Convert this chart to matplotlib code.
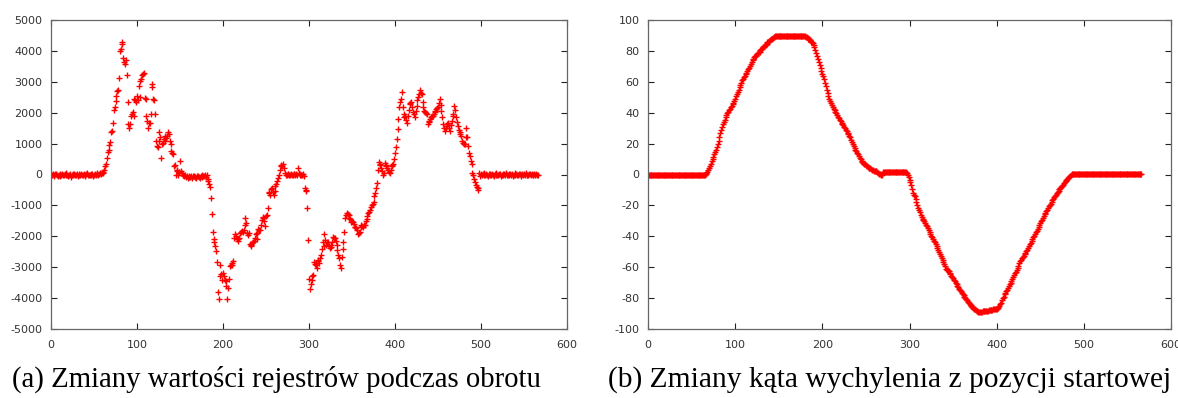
import numpy as np
import matplotlib
matplotlib.use("Agg")
import matplotlib.pyplot as plt

plt.rcParams["axes.unicode_minus"] = False

# sample index (one reading per step)
sample_index = np.arange(567)

# (a) register values, one per sample
register_values = [
    0, -30, 20, -10, -50, 10, 30, -20, -40, 0,
    20, -60, -10, 30, 0, -30, 10, -20, 40, -10,
    -40, 0, 20, -80, -20, 10, -30, 30, 0, -10,
    20, -40, -10, 10, -20, 30, -30, 0, 20, -50,
    -10, 10, 40, -20, 0, -30, 20, -10, 30, -40,
    0, 20, -20, 40, 10, -10, 30, 60, 20, 50,
    90, 60, 140, 290, 330, 520, 740, 780, 960, 1060,
    1380, 1400, 1680, 2100, 2170, 2390, 2550, 2700, 2750, 3120,
    3990, 4060, 4230, 4290, 3760, 3640, 3590, 3700, 3210, 2340,
    1630, 1500, 1620, 1900, 1950, 2010, 1880, 2450, 2400, 2340,
    2550, 2420, 2880, 2500, 3040, 3100, 3210, 3260, 3290, 2470,
    2430, 1900, 1720, 1490, 1680, 1660, 1960, 2830, 2930, 2450,
    2420, 1960, 1090, 920, 880, 1100, 1360, 1200, 540, 1000,
    1030, 1140, 1080, 1250, 1180, 1250, 1380, 1300, 1090, 1000,
    760, 700, 650, 270, 300, 0, 100, 150, 0, 80,
    430, 110, 50, 0, -20, -50, -30, -80, -60, -100,
    -40, -70, -80, -50, -100, -60, -40, -90, -70, -120,
    -60, -40, -80, -100, -50, 0, -80, -60, -40, -20,
    -80, -20, -150, -220, -300, -395, -770, -1290, -1870, -2100,
    -2170, -2300, -2490, -2820, -3790, -4040, -3300, -2920, -3220, -3400,
    -3190, -3300, -3400, -3450, -3620, -4020, -3670, -3380, -2960, -2940,
    -2920, -2850, -2790, -2050, -1910, -2000, -2100, -2080, -2160, -2050,
    -1890, -1850, -1830, -1870, -1800, -1400, -1650, -1580, -1890, -1950,
    -1890, -2250, -2310, -2270, -2220, -2180, -2160, -2050, -1910, -2100,
    -1900, -1760, -1800, -1810, -1620, -1460, -1400, -1370, -1500, -1670,
    -1350, -1300, -1100, -600, -560, -650, -480, -430, -560, -650,
    -540, -380, -300, -200, -100, 0, 150, 260, 300, 280,
    330, 200, 50, 0, -20, 10, 30, -10, 0, 20,
    -20, 0, 10, 30, -10, 20, 0, 220, 40, -10,
    10, 0, -30, 20, -40, -430, -500, -540, -1090, -2120,
    -3390, -3690, -3550, -3410, -3300, -3250, -2820, -2900, -2930, -3040,
    -2770, -2800, -2880, -2700, -2610, -2400, -2170, -2300, -1930, -2120,
    -2280, -2200, -2170, -2300, -2390, -2350, -2280, -2200, -2030, -2050,
    -2070, -2150, -2280, -2450, -2610, -2700, -2930, -3010, -2660, -2400,
    -2170, -1850, -1420, -1300, -1250, -1280, -1300, -1420, -1450, -1530,
    -1500, -1530, -1600, -1690, -1700, -1740, -1800, -1910, -1880, -1850,
    -1700, -1640, -1660, -1690, -1650, -1640, -1500, -1450, -1350, -1250,
    -1200, -1150, -1050, -990, -950, -880, -700, -610, -450, -280,
    160, 400, 330, 300, 220, 100, 0, 50, 380, 300,
    270, 200, 150, 80, 50, 150, 270, 300, 350, 500,
    680, 900, 1160, 1470, 1790, 2170, 2340, 2450, 2660, 2200,
    1960, 1850, 1900, 1750, 1680, 1900, 2100, 2280, 2300, 2340,
    2200, 2010, 1950, 1850, 2050, 2230, 2400, 2500, 2600, 2720,
    2650, 2610, 2340, 2200, 2070, 2010, 1980, 1960, 1630, 1700,
    1740, 1780, 1850, 1880, 1900, 1950, 2010, 2050, 2120, 2150,
    2170, 2300, 2450, 2250, 2070, 1850, 1630, 1500, 1410, 1500,
    1580, 1620, 1680, 1500, 1410, 1600, 1740, 1900, 1960, 2230,
    2100, 1850, 1700, 1580, 1450, 1360, 1300, 1250, 1100, 1030,
    980, 1000, 1520, 1200, 1200, 920, 700, 600, 450, 330,
    50, 0, -160, -250, -330, -400, -450, -490, 50, -50,
    20, -30, 10, 40, -20, 0, 30, -10, -40, 10,
    0, 20, -30, 30, -10, -50, 10, 40, -20, 0,
    -30, 10, 20, -40, 0, 30, -20, 10, -10, 50,
    0, -20, 30, -30, 10, -10, 20, -50, 0, 40,
    -10, 20, -30, 0, 10, 30, -20, -40, 20, 0,
    10, -20, 40, -10, 0, -30, 20, 10, -20, 30,
    -10, 0, 20, -30, 10, -20, 0,
]

# (b) tilt angle from the start position, one per sample
tilt_angle = [
    0, 0, 0, 0, 0, 0, 0, 0, 0, 0,
    0, 0, 0, 0, 0, 0, 0, 0, 0, 0,
    0, 0, 0, 0, 0, 0, 0, 0, 0, 0,
    0, 0, 0, 0, 0, 0, 0, 0, 0, 0,
    0, 0, 0, 0, 0, 0, 0, 0, 0, 0,
    0, 0, 0, 0, 0, 0, 0, 0, 0, 0,
    0, 0, 0, 0, 0, 0, 0.3, 0.8, 1.5, 2.7,
    4, 5.5, 7, 8.5, 10, 11.5, 13, 14.5, 16, 18,
    20, 22, 24.5, 27, 29, 31, 32.5, 34, 35.5, 37,
    38.5, 39.5, 40.5, 41.5, 42.5, 43.5, 44.5, 45.5, 46.5, 47.5,
    49, 50.5, 52, 53.5, 55, 56.5, 58, 59.5, 61, 62,
    63, 64, 65, 66, 67, 68, 69, 70, 71.5, 73,
    74, 75, 76, 76.5, 77, 78, 78.5, 79, 79.5, 80.5,
    81, 81.5, 82.5, 83, 83.5, 84, 84.5, 85.5, 86, 86.5,
    87, 87.5, 88, 88.5, 89, 89.3, 89.5, 89.5, 89.5, 89.5,
    89.5, 89.6, 89.5, 89.5, 89.4, 89.5, 89.5, 89.6, 89.5, 89.5,
    89.5, 89.5, 89.6, 89.5, 89.5, 89.4, 89.5, 89.5, 89.5, 89.6,
    89.5, 89.5, 89.5, 89.4, 89.5, 89.5, 89.6, 89.5, 89.5, 89.5,
    89.5, 89.3, 89, 88.5, 88, 87.5, 87, 86, 85.5, 85,
    84, 82.5, 80.5, 78.5, 77, 75, 73, 71, 69, 67,
    65, 63.5, 61.5, 59.5, 57, 55, 53, 51, 49, 47.5,
    46, 45, 43.5, 42.5, 41.5, 40.5, 39.5, 38.5, 37.5, 36.5,
    35.5, 34.5, 33.5, 32.5, 32, 31, 30, 29, 28, 27,
    26.5, 25, 24, 22.5, 21, 19.5, 18.5, 17, 16, 15,
    14, 13, 12, 11, 10, 9, 8, 7.5, 7, 6.5,
    6, 5.5, 5, 4.5, 4.3, 4, 3.5, 3, 2.8, 2.5,
    2.3, 2.2, 2, 1.5, 1, 0.5, 0.2, 0, 0, 0.5,
    1.5, 1.5, 1.5, 1.5, 1.5, 1.5, 1.5, 1.5, 1.5, 1.5,
    1.5, 1.5, 1.5, 1.5, 1.5, 1.5, 1.5, 1.5, 1.5, 1.5,
    1.5, 1.5, 1.5, 1.5, 1.5, 1.5, 1.5, 1, 0, -1.5,
    -3.5, -5, -7, -9.5, -12, -13, -14, -16, -18, -20,
    -21.7, -23, -24.5, -26, -27.5, -28.5, -29.2, -30.2, -31.3, -32.4,
    -33.5, -34.6, -35.7, -37, -38.3, -39.5, -40.6, -41.7, -42.8, -43.9,
    -45, -46.4, -47.7, -49, -50.3, -51.5, -52.8, -54, -55.3, -56.5,
    -57.8, -59.5, -61, -61.5, -62, -62.5, -63.5, -64.5, -65.5, -66.2,
    -66.9, -68, -69, -70, -71, -72, -73, -73.8, -74.5, -75.5,
    -76.5, -77.3, -78.2, -79, -80, -80.8, -81.5, -82.3, -83, -83.8,
    -84.5, -85.2, -85.8, -86.3, -86.8, -87.3, -87.8, -88.2, -88.5, -88.8,
    -88.8, -88.7, -88.7, -88.7, -88.6, -88.6, -88.6, -88.6, -88.5, -88.5,
    -88.5, -87.5, -87.5, -87.4, -87.4, -87.4, -87.3, -87.3, -87.3, -87.2,
    -87, -86.5, -86, -85, -84, -83, -81.5, -80, -79, -77.5,
    -76.6, -75.5, -74.5, -73.5, -72.2, -71.1, -70.1, -69, -67.8, -66.5,
    -65.2, -64, -63, -61.8, -60.5, -59, -57.5, -56.3, -55.2, -54.3,
    -53.5, -52.5, -51.5, -50.5, -49.5, -48.6, -47.5, -46.4, -45.3, -44.2,
    -43, -41.8, -40.6, -39.6, -38.5, -37.4, -36.3, -35.2, -34, -32.7,
    -31.5, -30.3, -29.2, -28, -26.8, -25.8, -24.8, -23.7, -22.7, -21.7,
    -20.7, -19.8, -18.8, -17.8, -16.8, -15.7, -14.8, -14, -13, -12.2,
    -11.3, -10.5, -9.6, -8.8, -8, -7.2, -6.5, -5.8, -5, -4.3,
    -3.7, -3, -2.3, -1.5, -0.8, 0, 0.5, 0.5, 0.5, 0.5,
    0.5, 0.5, 0.5, 0.5, 0.5, 0.5, 0.5, 0.5, 0.5, 0.5,
    0.5, 0.5, 0.5, 0.5, 0.5, 0.5, 0.5, 0.5, 0.5, 0.5,
    0.5, 0.5, 0.5, 0.5, 0.5, 0.5, 0.5, 0.5, 0.5, 0.5,
    0.5, 0.5, 0.5, 0.5, 0.5, 0.5, 0.5, 0.5, 0.5, 0.5,
    0.5, 0.5, 0.5, 0.5, 0.5, 0.5, 0.5, 0.5, 0.5, 0.5,
    0.5, 0.5, 0.5, 0.5, 0.5, 0.5, 0.5, 0.5, 0.5, 0.5,
    0.5, 0.5, 0.5, 0.5, 0.5, 0.5, 0.5, 0.5, 0.5, 0.5,
    0.5, 0.5, 0.5, 0.5, 0.5, 0.5, 0.5,
]

x_ticks = [0, 100, 200, 300, 400, 500, 600]
register_ticks = [-5000, -4000, -3000, -2000, -1000, 0, 1000, 2000, 3000, 4000, 5000]
angle_ticks = [-100, -80, -60, -40, -20, 0, 20, 40, 60, 80, 100]

caption_a = "(a) Zmiany wartości rejestrów podczas obrotu"
caption_b = "(b) Zmiany kąta wychylenia z pozycji startowej"

assert len(register_values) == len(sample_index), len(register_values)
assert len(tilt_angle) == len(sample_index), len(tilt_angle)

W, H = 1178, 398
fig = plt.figure(figsize=(W / 100, H / 100), dpi=100)
fig.patch.set_facecolor("white")

ax_a = fig.add_axes([51 / W, (H - 329) / H, 516 / W, 309 / H])
ax_b = fig.add_axes([648 / W, (H - 329) / H, 523 / W, 309 / H])

for ax, values, yticks in ((ax_a, register_values, register_ticks),
                           (ax_b, tilt_angle, angle_ticks)):
    ax.plot(sample_index, values, linestyle="none", marker="+",
            markersize=5.0, markeredgewidth=1.0, color="#ff0000")
    ax.set_xlim(x_ticks[0], x_ticks[-1])
    ax.set_ylim(yticks[0], yticks[-1])
    ax.set_xticks(x_ticks)
    ax.set_xticklabels([str(t) for t in x_ticks])
    ax.set_yticks(yticks)
    ax.set_yticklabels([str(t) for t in yticks])
    ax.tick_params(direction="in", length=4, width=0.8, top=True, right=True,
                   labelsize=8, labelcolor="#333333", color="#222222", pad=6)
    ax.tick_params(axis="x", pad=8)
    for s in ax.spines.values():
        s.set_color("#666666")
        s.set_linewidth(0.9)

# captions under each panel, fitted to their width in the picture
caps = [(caption_a, 12, 541), (caption_b, 607, 1172)]
texts = []
for s, x0, x1 in caps:
    t = fig.text((x0 + x1) / 2 / W, 1 - 387 / H, s, ha="center", va="baseline",
                 family="Liberation Serif", fontsize=16, color="black")
    texts.append((t, x1 - x0))
fig.canvas.draw()
r = fig.canvas.get_renderer()
for t, target in texts:
    w = t.get_window_extent(r).width
    t.set_fontsize(16 * target / w)

fig.savefig("out.png", dpi=100, facecolor="white")
